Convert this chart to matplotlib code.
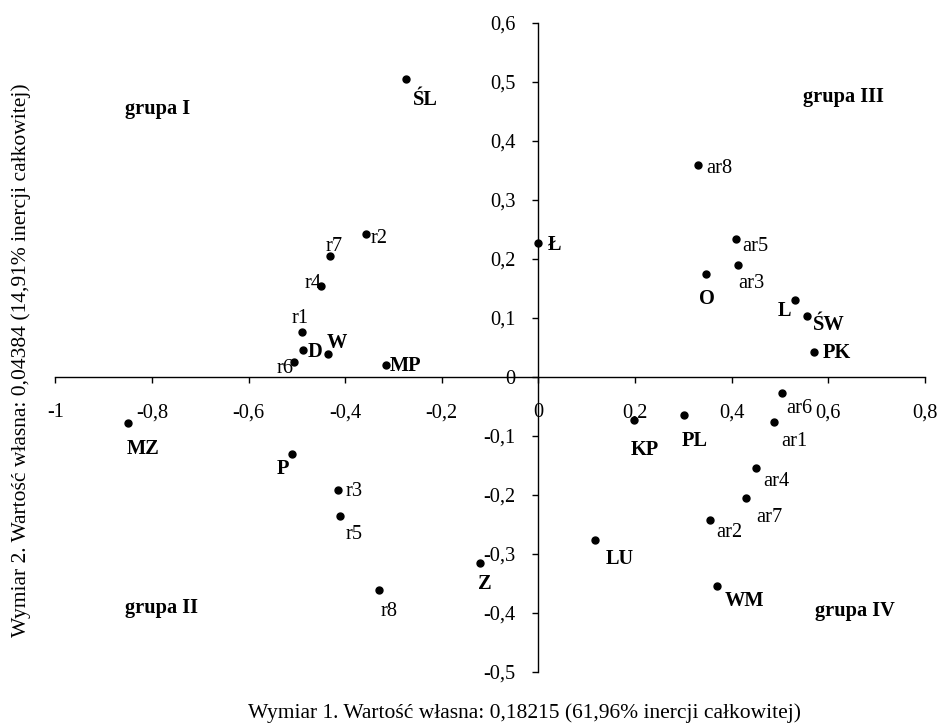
"""Correspondence analysis map: regions vs. r/ar categories (dim 1 x dim 2)."""

import matplotlib
matplotlib.use("Agg")
import matplotlib.pyplot as plt
import numpy as np

plt.rcParams["font.family"] = ["Liberation Serif", "DejaVu Serif"]

# Region points (bold labels)
regions = ["ŚL", "Ł", "W", "D", "MP", "MZ", "P", "Z", "LU", "KP", "PL",
           "O", "L", "ŚW", "PK", "WM"]
reg_x = [-0.274, 0.000, -0.435, -0.488, -0.315, -0.850, -0.510, -0.121,
         0.118, 0.197, 0.301, 0.346, 0.531, 0.556, 0.570, 0.369]
reg_y = [0.504, 0.226, 0.038, 0.046, 0.019, -0.078, -0.131, -0.316,
         -0.277, -0.073, -0.065, 0.174, 0.130, 0.102, 0.041, -0.355]

# Category points (regular labels)
cats = ["r1", "r2", "r3", "r4", "r5", "r6", "r7", "r8",
        "ar1", "ar2", "ar3", "ar4", "ar5", "ar6", "ar7", "ar8"]
cat_x = [-0.490, -0.357, -0.414, -0.450, -0.410, -0.505, -0.431, -0.331,
         0.488, 0.356, 0.414, 0.450, 0.408, 0.504, 0.430, 0.330]
cat_y = [0.075, 0.241, -0.192, 0.153, -0.236, 0.025, 0.204, -0.361,
         -0.077, -0.243, 0.189, -0.154, 0.233, -0.027, -0.206, 0.359]

groups = ["grupa I", "grupa II", "grupa III", "grupa IV"]
group_xy = [(-0.855, 0.445), (-0.855, -0.401), (0.548, 0.465), (0.573, -0.405)]

x_ticks = [-1, -0.8, -0.6, -0.4, -0.2, 0, 0.2, 0.4, 0.6, 0.8]
y_ticks = [-0.5, -0.4, -0.3, -0.2, -0.1, 0, 0.1, 0.2, 0.3, 0.4, 0.5, 0.6]

# label offsets from the dot (pixels right, pixels down), left/baseline anchor
label_off = {
    "ŚL": (7, 26), "r2": (5, 9), "r7": (-5, -5), "r4": (-16, 2),
    "r1": (-10, -9), "D": (5, 7), "W": (-2, -6), "r6": (-18, 11),
    "MP": (3, 6), "Ł": (9, 7), "ar8": (8, 8), "ar5": (7, 12),
    "ar3": (0, 23), "O": (-7, 30), "L": (-17, 16), "ŚW": (6, 14),
    "PK": (9, 6), "MZ": (-1, 31), "P": (-15, 20), "r3": (7, 6),
    "r5": (5, 23), "r8": (2, 26), "Z": (-2, 26), "KP": (-3, 35),
    "PL": (-2, 31), "ar6": (4, 20), "ar1": (7, 24), "ar4": (7, 18),
    "ar7": (10, 24), "ar2": (6, 17), "LU": (10, 24), "WM": (8, 20),
}

FS = 14.7
FS_AX = 15.5
PX = 0.72  # points per pixel at dpi 100


def fmt(v):
    s = f"{v:g}"
    return s.replace(".", ",")


def main():
    fig = plt.figure(figsize=(9.4, 7.27), dpi=100)
    ax = fig.add_axes([0.0588, 0.0761, 0.984 - 0.0588, 0.9688 - 0.0761])

    ax.set_xlim(-1, 0.8)
    ax.set_ylim(-0.5, 0.6)

    for s in ["top", "right"]:
        ax.spines[s].set_visible(False)
    ax.spines["left"].set_position(("data", 0))
    ax.spines["bottom"].set_position(("data", 0))
    for s in ["left", "bottom"]:
        ax.spines[s].set_linewidth(1.0)

    ax.set_xticks(x_ticks)
    ax.set_xticklabels([fmt(v) for v in x_ticks])
    ax.set_yticks(y_ticks)
    ax.set_yticklabels([fmt(v) for v in y_ticks])
    ax.tick_params(axis="x", direction="out", length=4.3, width=1.0,
                   labelsize=FS, pad=15)
    ax.tick_params(axis="y", direction="out", length=4.3, width=1.0,
                   labelsize=FS, pad=12)

    ax.plot(reg_x, reg_y, "o", color="black", markersize=5, clip_on=False)
    ax.plot(cat_x, cat_y, "o", color="black", markersize=5, clip_on=False)

    for name, x, y in zip(regions, reg_x, reg_y):
        dx, dy = label_off[name]
        ax.annotate(name, (x, y), xytext=(dx * PX, -dy * PX),
                    textcoords="offset points", ha="left", va="baseline",
                    fontsize=FS, fontweight="bold")
    for name, x, y in zip(cats, cat_x, cat_y):
        dx, dy = label_off[name]
        ax.annotate(name, (x, y), xytext=(dx * PX, -dy * PX),
                    textcoords="offset points", ha="left", va="baseline",
                    fontsize=FS)

    for name, (x, y) in zip(groups, group_xy):
        ax.text(x, y, name, ha="left", va="baseline", fontsize=FS,
                fontweight="bold")

    fig.text(525 / 940, 0.019,
             "Wymiar 1. Wartość własna: 0,18215 (61,96% inercji całkowitej)",
             ha="center", va="center", fontsize=FS_AX)
    fig.text(0.022, 0.505,
             "Wymiar 2. Wartość własna: 0,04384 (14,91% inercji całkowitej)",
             ha="center", va="center", rotation=90, fontsize=FS_AX)

    fig.savefig("out.png", dpi=100)
    plt.close(fig)


if __name__ == "__main__":
    main()
